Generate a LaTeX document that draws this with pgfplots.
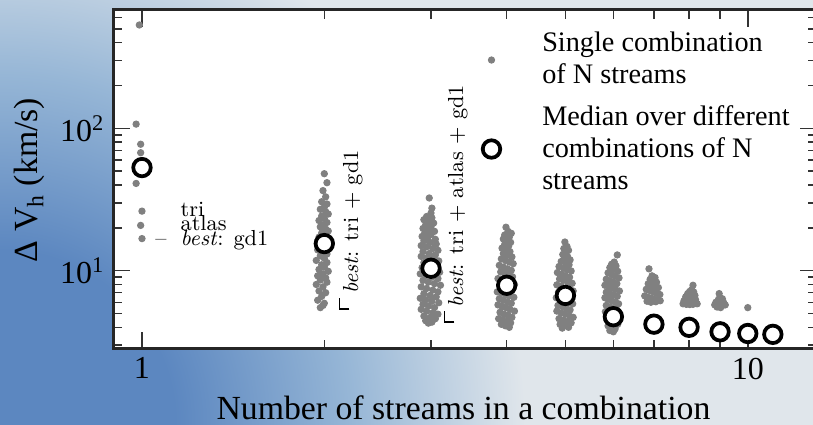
\documentclass[border=0pt]{standalone}
\usepackage{amssymb}
\usepackage{pgfplots}
\pgfplotsset{compat=1.18}
\usepackage[no-math]{fontspec}
\setmainfont{Liberation Serif}
\newfontfamily\lmr{Latin Modern Roman}
\definecolor{bgA}{RGB}{92,135,192}
\definecolor{bgM}{RGB}{150,182,214}
\definecolor{bgB}{RGB}{224,230,235}
\definecolor{dotgray}{RGB}{128,128,128}
\pgfdeclareradialshading{bgshade}{\pgfpoint{0bp}{0bp}}{color(0bp)=(bgA); color(7bp)=(bgA); color(14bp)=(bgM); color(21bp)=(bgB); color(50bp)=(bgB)}
\newcommand\crn{\rlap{\rule[0.4em]{0.06em}{0.5em}}\rule[0.84em]{0.55em}{0.06em}}
\begin{document}
\begin{tikzpicture}
\begin{scope}
\clip (0,0) rectangle (325.2pt,170pt);
\fill[bgB] (0,0) rectangle (325.2pt,170pt);
\shade[shading=bgshade] (0,0) circle (250pt);
\end{scope}
\begin{axis}[
  at={(45.4pt,30.4pt)}, anchor=south west,
  scale only axis, width=281.4pt, height=135.6pt,
  xmode=log, ymode=log,
  xmin=0.8974, xmax=13.01, ymin=2.818, ymax=678,
  axis background/.style={fill=white},
  axis line style={line width=1.2pt, color=black!85},
  tick align=inside, tick pos=both,
  xtick={1,10}, xticklabels={1,10},
  minor xtick={2,3,4,5,6,7,8,9},
  ytick={10,100}, yticklabels={10\textsuperscript{1},10\textsuperscript{2}},
  minor ytick={3,4,5,6,7,8,9,20,30,40,50,60,70,80,90,200,300,400,500,600},
  major tick length=6.8pt, minor tick length=3.6pt,
  tick style={line width=0.6pt, color=black!80},
  xticklabel style={font=\fontsize{12.8}{15}\selectfont},
  yticklabel style={font=\fontsize{12.8}{15}\selectfont},
  xlabel={Number of streams in a combination},
  ylabel={Δ V\textsubscript{h} (km/s)},
  label style={font=\fontsize{13.5}{16}\selectfont},
  xlabel style={at={(axis description cs:0.4975,-0.2094)}, anchor=base},
  ylabel style={at={(axis description cs:-0.119,0.4985)}, anchor=center},
  legend style={draw=none, fill=none, at={(axis description cs:0.5135,0.965)}, anchor=north west,
    font=\fontsize{11.3}{12.8}\selectfont, cells={anchor=west, align=left}, row sep=3pt,
    /tikz/every odd column/.append style={column sep=14.8pt}},
]
\addplot[dotgray, only marks, mark=*, mark size=1.25pt, mark options={draw=dotgray, fill=dotgray}] table {
x y
0.99 532
0.978 107
0.995 77.3
0.995 67.4
1.0 55
1.0 48
0.978 41
1.0 26.2
0.995 20.8
1.0 16.8
2.00 48
2.02 41.5
1.99 36.5
2.01 33
1.98 30.5
2.02 29.4
2.00 28
1.97 27
2.01 26
2.03 25
1.98 24.2
2.00 23.3
1.96 22.5
2.02 21.8
1.99 21
1.97 20.3
2.01 19.6
2.03 19
1.98 18.4
2.00 17.8
1.96 17.2
2.02 16.6
1.99 16
1.97 15.5
2.01 15
2.03 14.4
1.95 14
1.99 13.6
2.02 13.1
1.97 12.7
2.00 12.2
1.94 11.8
2.02 11.4
1.98 11
2.00 10.6
1.96 10.2
2.03 9.9
1.99 9.5
1.95 9.2
2.01 8.9
1.97 8.6
2.02 8.3
1.94 8.0
1.99 7.7
1.96 7.2
2.01 7.0
1.98 6.6
1.95 6.2
2.00 5.9
1.97 5.5
1.99 5.7
2.98 32.4
3.01 27.5
3.00 25.4
2.95 24.0
3.01 23.5
2.92 22.8
2.98 22.2
3.03 21.6
2.94 21.0
3.00 20.4
2.91 19.8
2.97 19.4
3.04 18.9
2.93 18.4
3.00 17.9
2.90 17.4
2.96 17.0
3.05 16.6
2.92 16.2
2.99 15.8
3.06 15.4
2.89 15.0
2.95 14.7
3.02 14.3
3.08 13.9
2.91 13.6
2.98 13.2
3.05 12.9
2.89 12.6
2.95 12.3
3.01 12.0
3.09 11.7
2.92 11.4
2.99 11.1
3.06 10.8
2.90 10.5
2.96 10.3
3.03 10.0
3.10 9.75
2.88 9.5
2.94 9.25
3.01 9.0
3.08 8.8
2.91 8.55
2.97 8.3
3.04 8.1
3.11 7.9
2.89 7.7
2.95 7.5
3.02 7.3
3.08 7.1
2.92 6.9
2.99 6.7
3.06 6.55
2.88 6.4
2.94 6.25
3.01 6.1
3.09 5.95
2.91 5.8
2.97 5.65
3.04 5.5
2.89 5.35
2.95 5.2
3.02 5.05
3.08 4.95
2.92 4.8
2.99 4.7
3.05 4.6
2.94 4.45
3.01 4.35
2.97 4.28
3.99 20.2
4.02 18.9
4.07 18.3
3.97 17.8
4.04 17.2
3.95 16.7
4.01 16.2
4.06 15.8
3.97 15.3
4.03 14.9
3.93 14.4
3.99 14.0
4.05 13.6
3.95 13.2
4.01 12.8
4.08 12.5
3.92 12.1
3.98 11.8
4.04 11.5
4.10 11.2
3.89 10.9
3.95 10.6
4.01 10.3
4.07 10.05
3.91 9.8
3.97 9.55
4.03 9.3
4.09 9.05
3.87 8.8
3.93 8.6
3.99 8.4
4.05 8.2
4.12 8.0
3.90 7.8
3.96 7.6
4.02 7.4
4.08 7.25
3.86 7.1
3.92 6.95
3.98 6.8
4.04 6.65
4.11 6.5
3.89 6.35
3.95 6.2
4.01 6.05
4.07 5.9
3.87 5.75
3.93 5.6
3.99 5.5
4.05 5.35
4.12 5.2
3.90 5.1
3.96 4.95
4.02 4.85
4.08 4.7
3.88 4.6
3.94 4.5
4.00 4.4
4.06 4.3
3.92 4.2
3.98 4.1
4.04 4.0
4.99 15.9
5.03 14.8
4.97 14.3
5.06 13.9
5.00 13.4
4.95 13.0
5.04 12.6
4.98 12.2
5.09 11.9
4.92 11.6
5.01 11.3
5.07 11.0
4.88 10.7
4.96 10.45
5.03 10.2
5.11 9.95
4.85 9.7
4.93 9.45
5.00 9.2
5.08 9.0
4.89 8.75
4.96 8.55
5.04 8.35
5.13 8.15
4.84 7.95
4.92 7.75
5.00 7.55
5.07 7.4
5.15 7.2
4.87 7.05
4.95 6.9
5.03 6.75
5.10 6.6
4.83 6.45
4.91 6.3
4.98 6.15
5.06 6.0
5.14 5.85
4.86 5.7
4.94 5.6
5.02 5.45
5.09 5.3
4.84 5.2
4.92 5.05
5.00 4.95
5.08 4.8
5.15 4.7
4.88 4.6
4.96 4.5
5.04 4.4
5.11 4.3
4.90 4.2
4.98 4.1
5.06 4.0
4.94 3.95
6.09 12.9
6.02 11.5
5.96 11.1
6.06 10.8
5.92 10.5
6.00 10.2
6.10 9.9
5.88 9.65
5.96 9.4
6.04 9.15
6.13 8.9
5.84 8.7
5.92 8.5
6.00 8.3
6.08 8.1
5.81 7.9
5.89 7.75
5.97 7.55
6.05 7.4
6.14 7.2
5.84 7.05
5.92 6.9
6.00 6.75
6.09 6.6
5.81 6.45
5.88 6.3
5.96 6.15
6.04 6.0
6.12 5.85
5.84 5.7
5.92 5.55
6.00 5.4
6.08 5.3
5.82 5.15
5.90 5.0
5.98 4.9
6.06 4.75
6.13 4.6
5.86 4.5
5.94 4.4
6.02 4.3
6.10 4.2
5.88 4.1
5.96 4.0
6.04 3.9
5.92 3.8
6.00 3.72
6.87 10.3
6.95 9.2
7.03 8.95
6.90 8.7
6.99 8.5
7.07 8.3
6.85 8.1
6.94 7.9
7.03 7.75
7.12 7.6
6.80 7.4
6.89 7.25
6.98 7.1
7.07 6.95
7.16 6.8
6.76 6.65
6.85 6.5
6.94 6.4
7.03 6.3
7.12 6.2
6.82 6.1
6.92 6.0
7.05 6.05
7.17 6.15
6.98 4.4
7.02 4.2
8.12 7.9
8.08 7.35
8.02 7.15
8.14 7.1
7.96 6.9
8.06 6.8
8.18 6.7
7.90 6.55
8.00 6.45
8.10 6.35
8.20 6.25
7.85 6.15
7.95 6.05
8.05 5.95
8.15 5.9
7.82 5.85
8.25 5.85
7.92 5.8
8.02 5.78
8.12 5.8
8.97 6.9
8.95 6.3
9.08 6.35
8.86 6.0
8.98 5.95
9.12 6.0
8.82 5.75
8.94 5.7
9.06 5.65
9.18 5.75
8.90 5.55
9.02 5.5
10.0 5.5
};
\addlegendentry{Single combination\\of N streams}
\addplot[black, only marks, mark=*, mark size=3.5pt, mark options={draw=black, fill=white, line width=1.5pt}] table {
x y
1 53
2 15.5
3 10.4
4 7.9
5 6.7
6 4.75
7 4.21
8 4.0
9 3.72
10 3.62
11 3.57
};
\addlegendentry{Median over different\\combinations of N\\streams}
\node[font={\lmr\fontsize{8.7}{10}\selectfont}, anchor=base west, inner sep=0pt] at (axis cs:1.156,23.9) {tri};
\node[font={\lmr\fontsize{8.7}{10}\selectfont}, anchor=base west, inner sep=0pt] at (axis cs:1.156,19.1) {atlas};
\node[font={\lmr\fontsize{8.7}{10}\selectfont}, anchor=base west, inner sep=0pt] at (axis cs:1.156,15.0) {\textit{best}: gd1};
\node[font={\lmr\fontsize{8.7}{10}\selectfont}, anchor=base west, inner sep=0pt] at (axis cs:1.0507,15.0) {–};
\node[font={\lmr\fontsize{8.7}{10}\selectfont}, rotate=90, anchor=base west, inner sep=0pt] at (axis cs:2.274,5.29) {\crn\,\textit{best}: tri + gd1};
\node[font={\lmr\fontsize{8.7}{10}\selectfont}, rotate=90, anchor=base west, inner sep=0pt] at (axis cs:3.39,4.28) {\crn\,\textit{best}: tri + atlas + gd1};
\end{axis}
\pgfresetboundingbox
\useasboundingbox (0,0) rectangle (325.2pt,170pt);
\end{tikzpicture}
\end{document}
